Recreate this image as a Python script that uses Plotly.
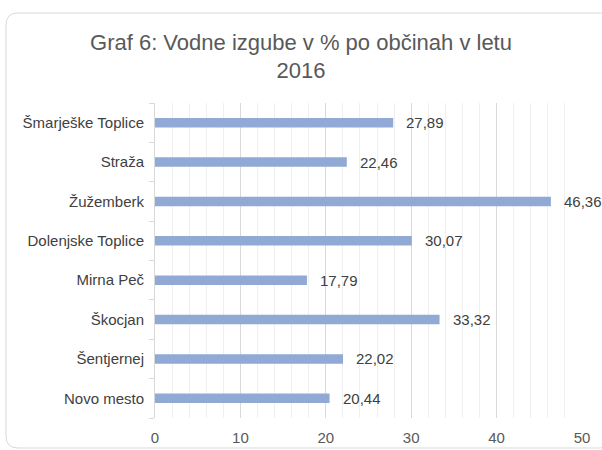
import plotly.graph_objects as go

categories = ["Šmarješke Toplice", "Straža", "Žužemberk", "Dolenjske Toplice",
              "Mirna Peč", "Škocjan", "Šentjernej", "Novo mesto"]
values = [27.89, 22.46, 46.36, 30.07, 17.79, 33.32, 22.02, 20.44]
x_ticks = [0, 10, 20, 30, 40, 50]
title_text = "Graf 6: Vodne izgube v % po občinah v letu<br>2016"

W, H = 602, 450
ml, mr, mt, mb = 155, 20, 103, 32
pw, ph = W - ml - mr, H - mt - mb
FONT = "Liberation Sans, Arial"

def px_to_paper(x, y):
    return (x - ml) / pw, (H - mb - y) / ph

fig = go.Figure()
fig.add_trace(go.Bar(
    y=categories, x=values, orientation="h",
    marker=dict(color="#91A9D5", line=dict(width=0)),
    width=0.24, hoverinfo="skip",
))

for c, v in zip(categories, values):
    fig.add_annotation(x=v, y=c, text=f"{v:.2f}".replace(".", ","),
                       xanchor="left", yanchor="middle", xshift=11,
                       showarrow=False,
                       font=dict(family=FONT, size=15, color="#404040"))

# rounded card border
x0, y0, x1, y1, r = 6, 13, 612, 448, 12
def P(x, y):
    a, b = px_to_paper(x, y)
    return f"{a:.5f},{b:.5f}"
path = (f"M {P(x0+r, y0)} L {P(x1-r, y0)} Q {P(x1, y0)} {P(x1, y0+r)} "
        f"L {P(x1, y1-r)} Q {P(x1, y1)} {P(x1-r, y1)} L {P(x0+r, y1)} "
        f"Q {P(x0, y1)} {P(x0, y1-r)} L {P(x0, y0+r)} Q {P(x0, y0)} {P(x0+r, y0)} Z")
fig.add_shape(type="path", path=path, xref="paper", yref="paper",
              line=dict(color="#D9D9D9", width=1), layer="below")

fig.update_layout(
    width=W, height=H,
    margin=dict(l=ml, r=mr, t=mt, b=mb),
    paper_bgcolor="white", plot_bgcolor="white",
    showlegend=False,
    title=dict(text=title_text, x=0.5, xanchor="center", y=0.89, yanchor="top",
               font=dict(family=FONT, size=22, color="#595959")),
    font=dict(family=FONT, size=15, color="#595959"),
    xaxis=dict(range=[0, 50], tickvals=x_ticks, showgrid=True, gridcolor="#D9D9D9",
               gridwidth=1, zeroline=False, showline=False, ticks="",
               ticklabelstandoff=9, automargin=False,
               minor=dict(dtick=2, showgrid=True, gridcolor="#EFEFEF", gridwidth=1),
               tickfont=dict(family=FONT, size=15, color="#595959"), fixedrange=True),
    yaxis=dict(categoryorder="array", categoryarray=categories[::-1],
               showline=True, linecolor="#D9D9D9", ticks="outside", tickson="boundaries",
               ticklen=5, tickcolor="#D9D9D9", ticklabelstandoff=7, automargin=False,
               tickfont=dict(family=FONT, size=15, color="#404040"), fixedrange=True),
)

fig.write_html("out.html", config={"displayModeBar": False},
               post_script="document.body.style.margin='0';document.body.style.overflow='hidden';")
